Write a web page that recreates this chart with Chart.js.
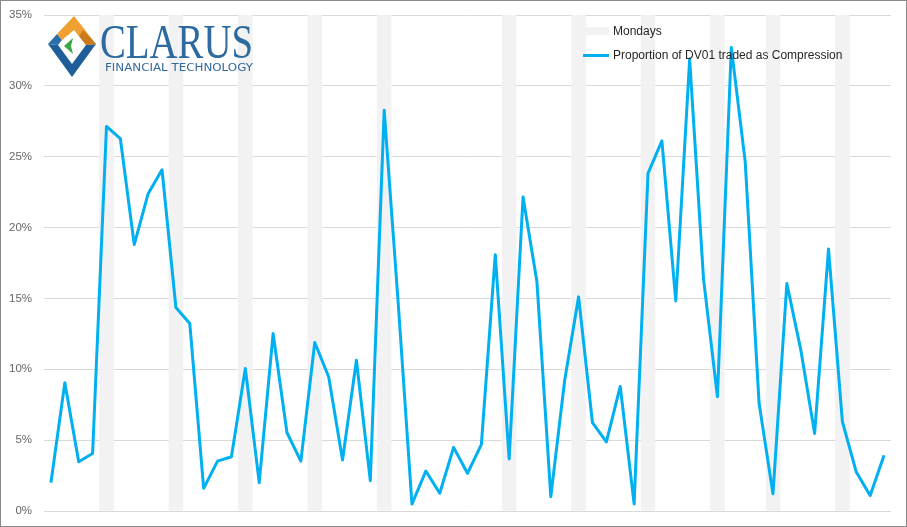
<!DOCTYPE html>
<html>
<head>
<meta charset="utf-8">
<script src="https://cdn.jsdelivr.net/npm/chart.js@4.4.0/dist/chart.umd.min.js"></script>
<style>
  body { margin: 0; background: #fff; }
  #wrap { position: relative; width: 907px; height: 527px; font-family: "Liberation Sans", Arial, sans-serif; }
  #chart { position: absolute; left: 0; top: 0; }
  #frame { position: absolute; left: 0; top: 0; width: 907px; height: 527px; box-sizing: border-box; border: 1px solid #898989; pointer-events: none; }
  #logo { position: absolute; left: 0; top: 0; }
  .leg { position: absolute; left: 583px; font-size: 12px; color: #262626; white-space: nowrap; }
  .leg .sw { position: absolute; left: 0; width: 26px; }
  .leg span.t { position: absolute; left: 30px; top: -7px; }
</style>
</head>
<body>
<div id="wrap">
  <canvas id="chart" width="907" height="527"></canvas>
  <svg id="logo" width="270" height="90" viewBox="0 0 270 90">
    <polygon points="48,44 72,77 96,44 86,45 72,64 58,45" fill="#1f5f99"/>
    <polygon points="48,44 57,34 62,40 58,45" fill="#2a6eab"/>
    <polygon points="57,34 74,16 96,44 86,45 74,30 62,40" fill="#f0a030"/>
    <polygon points="83,30 96,44 86,45 79,36" fill="#c87a1c"/>
    <polygon points="64,46 73,38 71,46 73,54" fill="#3aa845"/>
    <text x="100" y="58" textLength="153" lengthAdjust="spacingAndGlyphs" font-family="Liberation Serif, serif" font-size="48" fill="#2d6aa0">CLARUS</text>
    <text x="105" y="71" textLength="148" lengthAdjust="spacingAndGlyphs" font-family="DejaVu Sans, sans-serif" font-size="11" fill="#33699a">FINANCIAL TECHNOLOGY</text>
  </svg>
  <div class="leg" style="top:31px;"><div class="sw" style="top:-4px;height:8px;background:#f2f2f2;"></div><span class="t">Mondays</span></div>
  <div class="leg" style="top:55px;"><div class="sw" style="top:-1px;height:3px;background:#00b0f0;"></div><span class="t">Proportion of DV01 traded as Compression</span></div>
  <div id="frame"></div>
</div>
<script>
// trading days shown in the chart (no axis labels in the original)
const days = [
  'd1','d2','d3','d4','d5','d6','d7','d8','d9','d10',
  'd11','d12','d13','d14','d15','d16','d17','d18','d19','d20',
  'd21','d22','d23','d24','d25','d26','d27','d28','d29','d30',
  'd31','d32','d33','d34','d35','d36','d37','d38','d39','d40',
  'd41','d42','d43','d44','d45','d46','d47','d48','d49','d50',
  'd51','d52','d53','d54','d55','d56','d57','d58','d59','d60','d61'
];

// % of DV01 traded as compression
const compression = [
  2.0, 9.05, 3.48, 4.06, 27.14, 26.27, 18.8, 22.39, 24.08, 14.36,
  13.23, 1.6, 3.52, 3.83, 10.06, 2.0, 12.52, 5.52, 3.52, 11.89,
  9.47, 3.6, 10.64, 2.14, 28.27, 14.8, 0.49, 2.82, 1.25, 4.49,
  2.66, 4.7, 18.09, 3.67, 22.16, 16.17, 1.01, 9.23, 15.11, 6.23,
  4.88, 8.79, 0.5, 23.82, 26.12, 14.82, 31.87, 16.36, 8.07, 32.7,
  24.65, 7.6, 1.21, 16.05, 11.39, 5.47, 18.49, 6.3, 2.75, 1.09, 3.93
];

// positions of Mondays in the days list
const mondayIdx = [4, 9, 14, 19, 24, 33, 38, 43, 48, 52, 57];
const mondayHeight = 35;

const yTicks = [0, 5, 10, 15, 20, 25, 30, 35];

const mondays = days.map((_, i) => mondayIdx.includes(i) ? mondayHeight : null);

const ctx = document.getElementById('chart').getContext('2d');
new Chart(ctx, {
  type: 'bar',
  data: {
    labels: days,
    datasets: [
      { type: 'line', label: 'Proportion of DV01 traded as Compression', data: compression,
        borderColor: '#00b0f0', borderWidth: 3, pointRadius: 0, tension: 0,
        borderJoinStyle: 'round', order: 0 },
      { type: 'bar', label: 'Mondays', data: mondays, backgroundColor: '#f2f2f2',
        barPercentage: 1, categoryPercentage: 1, order: 1 }
    ]
  },
  options: {
    responsive: false,
    animation: false,
    layout: { padding: { left: 0, right: 16, top: 15, bottom: 16 } },
    plugins: { legend: { display: false }, tooltip: { enabled: false } },
    scales: {
      x: { display: false, offset: true },
      y: {
        min: 0, max: 35,
        afterBuildTicks: (s) => { s.ticks = yTicks.map(v => ({ value: v })); },
        // fixed axis width, no extra label padding above/below the plot
        afterFit: (s) => { s.width = 44; s.paddingTop = 0; s.paddingBottom = 0; },
        border: { display: false },
        grid: { color: '#d9d9d9', drawTicks: false },
        ticks: {
          padding: 12,
          color: '#666',
          font: { family: 'Liberation Sans', size: 11.5 },
          callback: (v) => v + '%'
        }
      }
    }
  }
});
</script>
</body>
</html>
